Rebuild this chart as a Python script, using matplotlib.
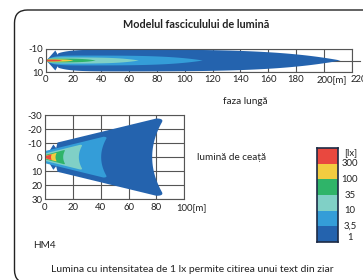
import numpy as np
import matplotlib.pyplot as plt
from matplotlib.patches import Polygon, FancyBboxPatch

plt.rcParams['font.family'] = ['Lato', 'DejaVu Sans']
plt.rcParams['font.size'] = 7.2
plt.rcParams['axes.unicode_minus'] = False

# praguri de iluminare (lx), de la exterior spre interior
lux_labels = ['1', '3,5', '10', '35', '100', '300']
lux_colors = ['#2463ae', '#349dd8', '#80d0c6', '#2fb469', '#f2cc40', '#e9483f']

# faza lunga: bataia (m) si semi-latimea (m) pentru fiecare prag
high_reach = [212, 113, 67, 36, 20, 12]
high_half_width = [9.3, 4.2, 2.6, 1.6, 1.0, 0.7]

# lumina de ceata: bataia (m) si semi-latimea la capat (m)
fog_reach = [85.5, 44.8, 27, 14.5, 8.4, 4.8]
fog_half_width = [27.5, 14.5, 8.8, 5.0, 3.0, 2.0]

high_xticks = [0, 20, 40, 60, 80, 100, 120, 140, 160, 180, 200, 220]
high_yticks = [-10, 0, 10]
fog_xticks = [0, 20, 40, 60, 80, 100]
fog_yticks = [-30, -20, -10, 0, 10, 20, 30]

W_PX, H_PX = 363, 280
TXT = '#222222'


def fig_xy(x, y):
    return x / W_PX, 1 - y / H_PX


def high_outline(L, W, arrow=False):
    x = np.linspace(0, L, 300)
    y = W * (1 - np.exp(-x / (0.04 * L))) * (1 - (x / L) ** 5)
    if arrow:
        keep = x >= 9
        x = np.r_[[0.6, 7.0, 8.7], x[keep]]
        y = np.r_[[0.0, 0.91 * W, 0.53 * W], y[keep]]
    upper = np.column_stack([x, -y])
    lower = upper[::-1] * [1, -1]
    return np.vstack([upper, lower])


def fog_outline(L, W, arrow=False):
    w0 = 0.3 * W
    d = 0.1 * L
    c = 0.065 * L
    start = 9 if arrow else 0
    xt = np.linspace(start, L - c, 60)
    yt = w0 + (W - w0) * xt / (L - c)
    upper = np.column_stack([xt, -yt])
    if arrow:
        head = np.array([[0.5, 0.0], [6.0, -9.0], [8.0, -6.5]])
    else:
        head = np.array([[-0.3, 0.0]])
    # colt rotunjit (Bezier patratic) intre marginea de sus si spate
    s0 = 0.9
    p0 = upper[-1]
    p1 = np.array([L, -W])
    p2 = np.array([L - d * (1 - s0 ** 2), -s0 * W])
    t = np.linspace(0, 1, 20)[1:-1, None]
    corner = (1 - t) ** 2 * p0 + 2 * (1 - t) * t * p1 + t ** 2 * p2
    sb = np.linspace(-s0, 0, 40)
    back = np.column_stack([L - d * (1 - sb ** 2), sb * W])
    upper = np.vstack([head, upper, corner, back])
    lower = upper[::-1] * [1, -1]
    return np.vstack([upper, lower[1:]])


def style_axes(ax):
    ax.set_axisbelow(True)
    ax.grid(True, color='#555555', linewidth=0.8)
    ax.tick_params(length=0, pad=2, colors=TXT, labelsize=6.9)
    for s in ax.spines.values():
        s.set_color('#555555')
        s.set_linewidth(0.8)


fig = plt.figure(figsize=(W_PX / 100, H_PX / 100), dpi=100)

# cadru rotunjit (iese din imagine la dreapta si jos)
frame = FancyBboxPatch((0.145, -0.03), 4.0, 2.73,
                       boxstyle='round,pad=0,rounding_size=0.13',
                       transform=fig.dpi_scale_trans, fill=False,
                       edgecolor=TXT, linewidth=1.0)
fig.patches.append(frame)

# --- faza lunga ---
ax1 = fig.add_axes([45.6 / W_PX, 1 - 72.3 / H_PX, 306 / W_PX, 23.6 / H_PX])
for i, (L, W, col) in enumerate(zip(high_reach, high_half_width, lux_colors)):
    ax1.add_patch(Polygon(high_outline(L, W, arrow=(i == 0)), closed=True,
                          facecolor=col, edgecolor='none', zorder=2))
ax1.set_xlim(0, 220)
ax1.set_ylim(10, -10)
ax1.set_xticks(high_xticks)
ax1.set_xticklabels([str(t) if t < 200 else '' for t in high_xticks])
ax1.set_yticks(high_yticks)
style_axes(ax1)
ax1.annotate('200[m]', xy=(200, 0), xycoords=('data', 'axes fraction'),
             xytext=(-5.5, -2), textcoords='offset points', ha='left', va='top',
             color=TXT, fontsize=6.9)
ax1.annotate('220', xy=(220, 0), xycoords=('data', 'axes fraction'),
             xytext=(-1, -2), textcoords='offset points', ha='left', va='top',
             color=TXT, fontsize=6.9, annotation_clip=False)
ax1.plot([220, 226], [0, 0], color='#555555', linewidth=0.8, clip_on=False)

# --- lumina de ceata ---
ax2 = fig.add_axes([45 / W_PX, 1 - 199.3 / H_PX, 139.3 / W_PX, 84.3 / H_PX])
for i, (L, W, col) in enumerate(zip(fog_reach, fog_half_width, lux_colors)):
    ax2.add_patch(Polygon(fog_outline(L, W, arrow=(i == 0)), closed=True,
                          facecolor=col, edgecolor='none', zorder=2))
ax2.set_xlim(0, 100)
ax2.set_ylim(30, -30)
ax2.set_xticks(fog_xticks)
ax2.set_xticklabels([str(t) if t < 100 else '' for t in fog_xticks])
ax2.set_yticks(fog_yticks)
style_axes(ax2)
ax2.tick_params(axis='x', pad=3)
ax2.annotate('100[m]', xy=(100, 0), xycoords=('data', 'axes fraction'),
             xytext=(-5.5, -3), textcoords='offset points', ha='left', va='top',
             color=TXT, fontsize=6.9)

# --- scala de culori ---
axc = fig.add_axes([317 / W_PX, 1 - 242 / H_PX, 21 / W_PX, 94 / H_PX])
axc.bar(np.zeros(6), np.ones(6), bottom=np.arange(6), width=1,
        color=lux_colors, edgecolor='none')
axc.set_xlim(-0.5, 0.5)
axc.set_ylim(0, 6)
axc.set_xticks([])
axc.set_yticks([])
for s in axc.spines.values():
    s.set_color('#1d2b45')
    s.set_linewidth(1.2)
for k, lab in enumerate(lux_labels):
    axc.text(1.57, np.clip(k, 0.3, 5.7) / 6, lab, transform=axc.transAxes,
             ha='center', va='center', color=TXT, fontsize=6.9)
axc.text(1.6, 5.7 / 6, '[lx]', transform=axc.transAxes, ha='center',
         va='center', color=TXT, fontsize=6.9)

# --- texte ---
fig.text(*fig_xy(196, 24), 'Modelul fasciculului de lumină', ha='center',
         va='center', fontweight='bold', color=TXT, fontsize=7.8)
fig.text(*fig_xy(245, 102), 'faza lungă', ha='center', va='center', color=TXT)
fig.text(*fig_xy(232, 157), 'lumină de ceață', ha='center', va='center',
         color=TXT)
fig.text(*fig_xy(33, 245), 'HM4', ha='left', va='center', color=TXT)
fig.text(*fig_xy(192.5, 269),
         'Lumina cu intensitatea de 1 lx permite citirea unui text din ziar',
         ha='center', va='center', color=TXT, fontsize=7.5)

fig.savefig('out.png', dpi=100)
